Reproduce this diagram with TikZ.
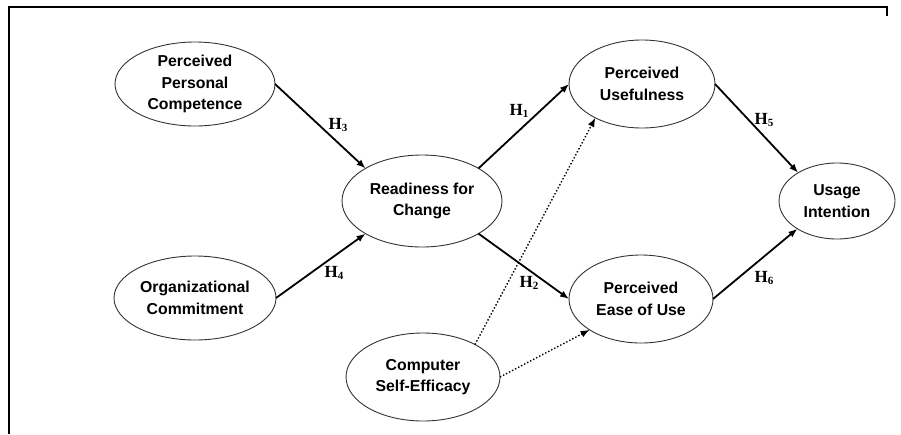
\documentclass[tikz,border=0pt]{standalone}
\usepackage{fontspec}
\setmainfont{Liberation Sans}
\newfontfamily\hfont{Liberation Serif}
\usetikzlibrary{shapes.geometric,arrows.meta}
\newcommand{\hyplabel}[1]{H\raisebox{-0.35ex}{\fontsize{11}{11}\selectfont #1}}
\begin{document}
\begin{tikzpicture}[x=1pt,y=-1pt,
  construct/.style={ellipse,draw=black!80,line width=0.9pt,inner sep=0pt,outer sep=0pt,
    align=center,font=\fontsize{15.8}{21.5}\selectfont\bfseries},
  path/.style={line width=1.8pt,-{Latex[length=9pt,width=7pt]}},
  dotpath/.style={line width=1.4pt,dotted,-{Latex[length=9pt,width=7pt]}},
  hyp/.style={font=\hfont\fontsize{17}{17}\selectfont\bfseries,inner sep=0pt}]
\useasboundingbox (0,0) rectangle (901,434);
\draw[line width=1.8pt] (9,434) -- (9,7) -- (887,7) -- (887,16);

\node[construct,minimum width=160pt,minimum height=84pt] (ppc) at (195,84) {Perceived\\Personal\\Competence};
\node[construct,minimum width=162pt,minimum height=84pt] (oc) at (195,298) {Organizational\\Commitment};
\node[construct,minimum width=160pt,minimum height=92pt] (rfc) at (422,201) {Readiness for\\Change};
\node[construct,minimum width=146pt,minimum height=88pt] (pu) at (642,84) {Perceived\\Usefulness};
\node[construct,minimum width=144pt,minimum height=88pt] (peu) at (641,299) {Perceived\\Ease of Use};
\node[construct,minimum width=154pt,minimum height=88pt] (cse) at (423,377) {Computer\\Self-Efficacy};
\node[construct,minimum width=116pt,minimum height=76pt] (ui) at (837,201) {Usage\\Intention};

\draw[path] (ppc.east) -- (rfc.150);
\draw[path] (oc.east) -- (rfc.210);
\draw[path] (rfc.30) -- (pu.west);
\draw[path] (rfc.330) -- (peu.west);
\draw[path] (pu.east) -- (ui.144);
\draw[path] (peu.east) -- (ui.215);
\draw[dotpath] (cse.32) -- (pu.216);
\draw[dotpath] (cse.east) -- (peu.211);

\node[hyp] (h3) at (338,125) {\hyplabel{3}};
\node[hyp] (h4) at (334,273) {\hyplabel{4}};
\node[hyp] (h1) at (519,111) {\hyplabel{1}};
\node[hyp] (h2) at (529,283) {\hyplabel{2}};
\node[hyp] (h5) at (764,120) {\hyplabel{5}};
\node[hyp] (h6) at (764,278) {\hyplabel{6}};
\end{tikzpicture}
\end{document}
